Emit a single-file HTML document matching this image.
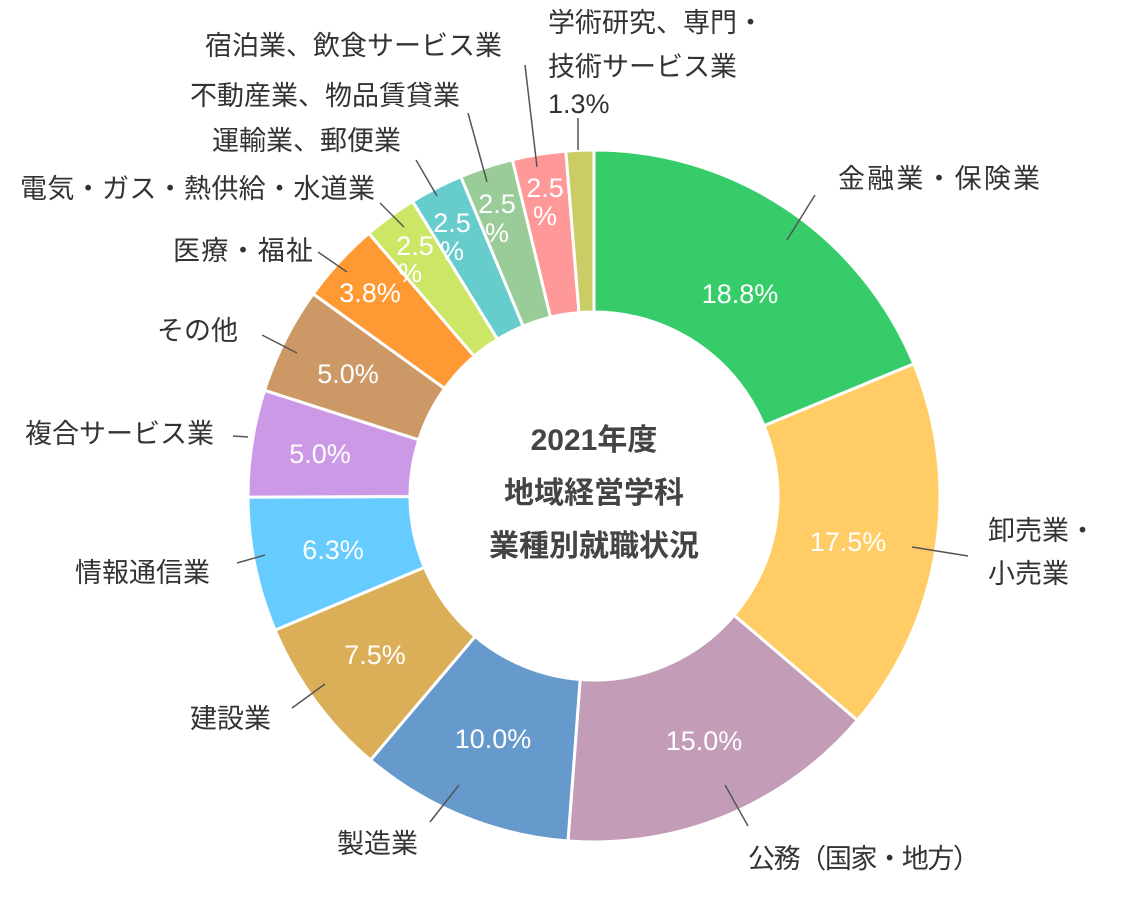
<!DOCTYPE html>
<html><head><meta charset="utf-8">
<style>
html,body{margin:0;padding:0;background:#fff;}
svg{display:block;}
text{font-family:"Liberation Sans","Noto Sans CJK JP",sans-serif;}
.l{font-size:27px;fill:#333;}
.p{font-size:27px;fill:#fff;text-anchor:middle;}
.c{font-size:30px;fill:#444;text-anchor:middle;font-weight:bold;}
line{stroke:#555;stroke-width:1.5;}
</style></head><body>
<svg id="s" width="1134" height="916" viewBox="0 0 1134 916" xmlns="http://www.w3.org/2000/svg">
<g id="arcs"></g>
<g>
<line x1="787" y1="240" x2="815" y2="195"/>
<line x1="912" y1="547" x2="968" y2="556"/>
<line x1="725" y1="785" x2="748" y2="826"/>
<line x1="459" y1="785" x2="430" y2="822"/>
<line x1="325" y1="684" x2="292" y2="708"/>
<line x1="265" y1="555" x2="237" y2="563"/>
<line x1="248" y1="437" x2="233" y2="436"/>
<line x1="297" y1="353" x2="262" y2="335"/>
<line x1="347" y1="272" x2="318" y2="252"/>
<line x1="404" y1="227" x2="380" y2="203"/>
<line x1="437" y1="196" x2="416" y2="160"/>
<line x1="487" y1="182" x2="468" y2="113"/>
<line x1="537" y1="167" x2="525" y2="65"/>
<line x1="578" y1="150" x2="578" y2="118"/>
</g>
<g>
<text class="l" x="838" y="188" textLength="202">金融業・保険業</text>
<text class="l" x="988" y="540">卸売業・</text>
<text class="l" x="988" y="583">小売業</text>
<text class="l" x="748" y="868" textLength="232">公務（国家・地方）</text>
<text class="l" x="337" y="853">製造業</text>
<text class="l" x="190" y="728">建設業</text>
<text class="l" x="75" y="582">情報通信業</text>
<text class="l" x="25" y="443">複合サービス業</text>
<text class="l" x="157" y="340">その他</text>
<text class="l" x="173" y="260" textLength="140">医療・福祉</text>
<text class="l" x="20" y="198" textLength="355">電気・ガス・熱供給・水道業</text>
<text class="l" x="212" y="150">運輸業、郵便業</text>
<text class="l" x="190" y="105">不動産業、物品賃貸業</text>
<text class="l" x="205" y="55">宿泊業、飲食サービス業</text>
<text class="l" x="548" y="32">学術研究、専門・</text>
<text class="l" x="548" y="76">技術サービス業</text>
<text class="l" x="548" y="113">1.3%</text>
</g>
<g>
<text class="p" x="740" y="303">18.8%</text>
<text class="p" x="848" y="551">17.5%</text>
<text class="p" x="704" y="750">15.0%</text>
<text class="p" x="493" y="748">10.0%</text>
<text class="p" x="375" y="664">7.5%</text>
<text class="p" x="333" y="559">6.3%</text>
<text class="p" x="320" y="463">5.0%</text>
<text class="p" x="348" y="383">5.0%</text>
<text class="p" x="370" y="302">3.8%</text>
<text class="p" x="415" y="255">2.5</text><text class="p" x="410" y="282">%</text>
<text class="p" x="452" y="232">2.5</text><text class="p" x="452" y="260">%</text>
<text class="p" x="497" y="213">2.5</text><text class="p" x="497" y="242">%</text>
<text class="p" x="545" y="197">2.5</text><text class="p" x="545" y="225">%</text>
</g>
<text class="c" x="594" y="450">2021年度</text>
<text class="c" x="594" y="503">地域経営学科</text>
<text class="c" x="594" y="556">業種別就職状況</text>
</svg>
<script>
var d=[[18.8,"#37cc6a"],[17.5,"#ffcc66"],[15,"#c39db8"],[10,"#6699cc"],[7.5,"#dbaf57"],[6.3,"#66ccff"],[5,"#cc99e6"],[5,"#cc9966"],[3.8,"#ff9933"],[2.5,"#cce666"],[2.5,"#66cccc"],[2.5,"#99cc99"],[2.5,"#ff9999"],[1.3,"#cccc66"]];
var tot=0;d.forEach(function(x){tot+=x[0];});
var cx=594,cy=496,R=346,r=184,a=0,h="";
function pt(rad,ang){return [cx+rad*Math.sin(ang),cy-rad*Math.cos(ang)];}
d.forEach(function(x){
 var b=a+x[0]/tot*2*Math.PI,lg=(b-a)>Math.PI?1:0;
 var p1=pt(R,a),p2=pt(R,b),p3=pt(r,b),p4=pt(r,a);
 h+='<path d="M'+p1+' A'+R+','+R+' 0 '+lg+' 1 '+p2+' L'+p3+' A'+r+','+r+' 0 '+lg+' 0 '+p4+' Z" fill="'+x[1]+'" stroke="#fff" stroke-width="3"/>';
 a=b;});
document.getElementById("arcs").innerHTML=h;
</script>
</body></html>
